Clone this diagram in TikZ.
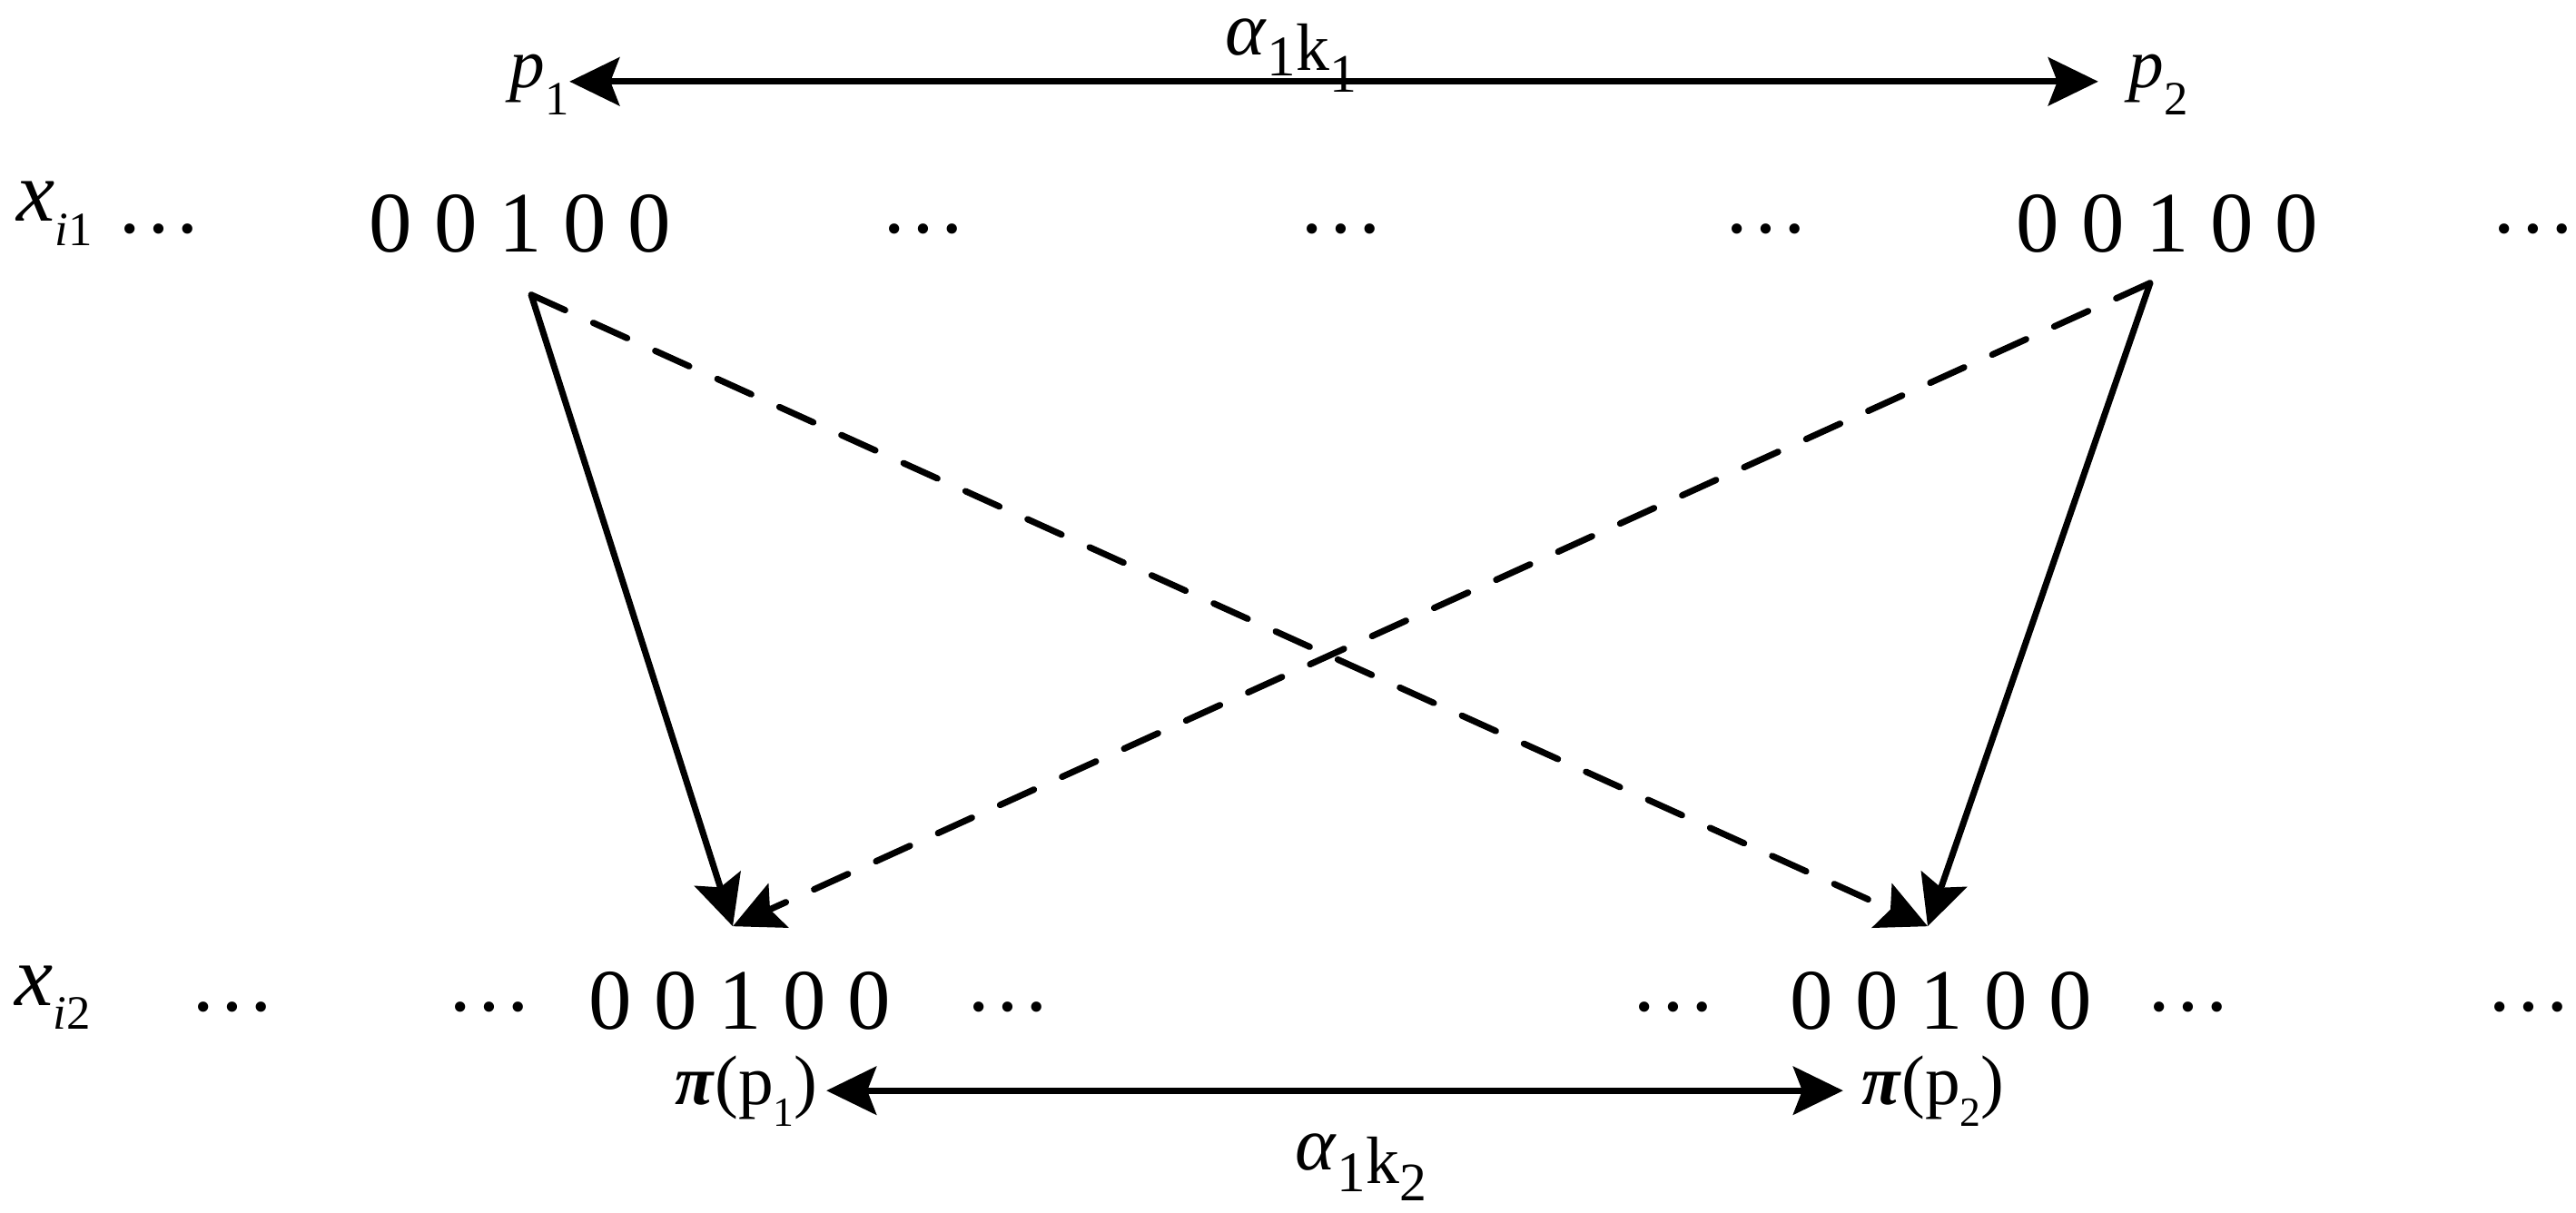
\documentclass[tikz,border=0pt]{standalone}
\usepackage{fontspec}
\setmainfont{Liberation Serif}
\usetikzlibrary{arrows.meta}
% #1 size (pt), #2 drop, #3 text
\newcommand\sbx[3]{\raisebox{-#2}{\fontsize{#1}{#1}\selectfont #3}}
\begin{document}
\begin{tikzpicture}[
  txt/.style={inner sep=0pt, anchor=base, font=\fontsize{27}{32}\selectfont},
  lbl/.style={txt, font=\fontsize{22}{26}\selectfont},
  txtw/.style={txt, anchor=base west},
  conn/.style={line width=0.07cm, -{Stealth[length=0.55cm,width=0.53cm,inset=0.1cm]}},
  dconn/.style={conn, line cap=round, dash pattern=on 0.41cm off 0.34cm},
  harrow/.style={line width=0.07cm, {Stealth[length=0.55cm,width=0.53cm,inset=0.1cm]}-{Stealth[length=0.55cm,width=0.53cm,inset=0.1cm]}}
]
\useasboundingbox (0,0) rectangle (28.37,-13.35);
% top labels
\node[lbl] (p1) at (5.94,-0.96) {\textit{p}\sbx{15}{0.3cm}{1}};
\node[lbl] (p2) at (23.77,-0.96) {\textit{p}\sbx{15}{0.3cm}{2}};
\node[lbl] (a1) at (14.22,-0.77) {\raisebox{0.17cm}{\fontsize{24}{28}\selectfont\textit{α}\sbx{18}{0.23cm}{1}}\fontsize{21}{24}\selectfont k\sbx{17}{0.24cm}{1}};
% row 1
\node[txtw] (xi1) at (0.18,-2.43) {\textit{x}\sbx{15}{0.27cm}{\textit{i}1}};
\node[txt] (d11) at (1.75,-2.56) {…};
\node[txt] (r1a) at (5.73,-2.77) {0 0 1 0 0};
\node[txt] (d12) at (10.17,-2.56) {…};
\node[txt] (d13) at (14.77,-2.56) {…};
\node[txt] (d14) at (19.45,-2.56) {…};
\node[txt] (r1b) at (23.87,-2.77) {0 0 1 0 0};
\node[txt] (d15) at (27.90,-2.56) {…};
% row 2
\node[txtw] (xi2) at (0.16,-11.07) {\textit{x}\sbx{15}{0.26cm}{\textit{i}2}};
\node[txt] (d21) at (2.56,-11.13) {…};
\node[txt] (d22) at (5.39,-11.13) {…};
\node[txt] (r2a) at (8.15,-11.33) {0 0 1 0 0};
\node[txt] (d23) at (11.10,-11.13) {…};
\node[txt] (d24) at (18.43,-11.13) {…};
\node[txt] (r2b) at (21.38,-11.33) {0 0 1 0 0};
\node[txt] (d25) at (24.10,-11.13) {…};
\node[txt] (d26) at (27.85,-11.13) {…};
% bottom labels
\node[lbl] (pp1) at (8.22,-12.16) {\textbf{\textit{π}}(p\sbx{13}{0.24cm}{1})};
\node[lbl] (pp2) at (21.29,-12.16) {\textbf{\textit{π}}(p\sbx{13}{0.24cm}{2})};
\node[lbl] (a2) at (14.99,-13.03) {\raisebox{0.15cm}{\fontsize{24}{28}\selectfont\textit{α}\sbx{18}{0.24cm}{1}}\fontsize{21}{24}\selectfont k\sbx{17}{0.19cm}{2}};
% anchor points of the diagonal connectors
\coordinate (s1) at ([shift={(0.12,-0.46)}]r1a.south);
\coordinate (s2) at ([shift={(-0.19,-0.33)}]r1b.south);
\coordinate (e1) at ([shift={(-0.08,0.49)}]r2a.north);
\coordinate (e2) at ([shift={(-0.15,0.49)}]r2b.north);
% connectors
\draw[harrow] ([yshift=0.03cm]p1.east) -- ([xshift=-0.33cm,yshift=0.03cm]p2.west);
\draw[harrow] ([xshift=0.09cm]pp1.east) -- ([xshift=-0.2cm]pp2.west);
\draw[conn] (s1) -- (e1);
\draw[conn] (s2) -- (e2);
\draw[dconn] (s1) -- (e2);
\draw[dconn] (s2) -- (e1);
\end{tikzpicture}
\end{document}
